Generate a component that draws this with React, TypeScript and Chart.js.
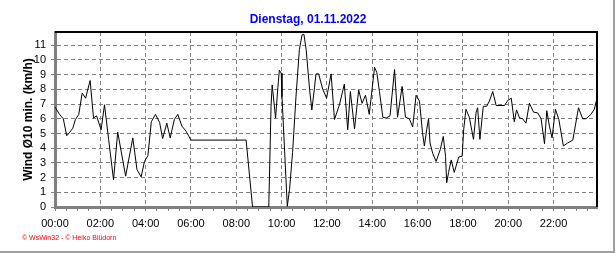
import React, { useEffect, useRef } from 'react';
import { Chart, registerables } from 'chart.js';

Chart.register(...registerables);

const TITLE = 'Dienstag, 01.11.2022';
const Y_TITLE = 'Wind Ø10 min. (km/h)';
const FOOTER = '© WsWin32 - © Heiko Blüdorn';

const hourLabels = ['00:00', '02:00', '04:00', '06:00', '08:00', '10:00', '12:00', '14:00', '16:00', '18:00', '20:00', '22:00'];
const yTickValues = [0, 1, 2, 3, 4, 5, 6, 7, 8, 9, 10, 11];
const xTickMinutes = Array.from({ length: 48 }, (_, i) => i * 30);

// time of day in minutes
const sampleMinutes = [
  0, 12, 22, 31, 38, 47, 54, 63, 72, 81, 93, 102, 110, 122, 131, 142, 155, 166, 187, 206,
  217, 228, 237, 246, 255, 266, 277, 285, 296, 305, 316, 325, 336, 347, 360, 506, 523, 566, 572, 575,
  584, 590, 594, 599, 601, 615, 621, 629, 638, 647, 654, 659, 665, 674, 680, 687, 691, 698, 709, 719,
  731, 740, 753, 766, 775, 782, 793, 804, 813, 822, 832, 846, 852, 859, 868, 877, 887, 899, 907, 919,
  928, 938, 947, 956, 965, 973, 978, 984, 989, 993, 1000, 1009, 1020, 1028, 1034, 1037, 1042, 1049, 1057, 1069,
  1078, 1082, 1088, 1097, 1108, 1115, 1119, 1125, 1134, 1143, 1150, 1159, 1168, 1190, 1199, 1208, 1216, 1222, 1230, 1238,
  1247, 1256, 1267, 1278, 1287, 1296, 1302, 1309, 1316, 1325, 1334, 1346, 1357, 1371, 1386, 1397, 1406, 1419, 1428, 1433,
];

// wind 10-min average, km/h
const windAvg = [
  6.8, 6.3, 6.0, 4.85, 5.05, 5.35, 5.95, 6.3, 7.75, 7.4, 8.6, 6.05, 6.2, 5.25, 6.95, 4.6, 1.85, 5.1, 2.1, 4.7,
  2.55, 2.05, 3.1, 3.5, 5.8, 6.3, 5.75, 4.65, 5.7, 4.7, 5.95, 6.3, 5.5, 5.15, 4.55, 4.55, 0, 0, 6.85, 8.3,
  6.05, 8.1, 9.3, 9.1, 7.5, 0.05, 1.2, 3.7, 7.5, 10.7, 11.7, 11.75, 10.7, 8.0, 6.6, 8.1, 9.05, 9.05, 8.0, 7.4,
  9.05, 5.95, 6.95, 8.35, 5.25, 7.85, 5.3, 7.95, 7.05, 7.6, 6.3, 9.5, 9.15, 7.85, 6.1, 6.05, 6.2, 9.35, 6.1, 8.2,
  6.1, 6.0, 5.45, 7.6, 7.2, 5.05, 4.15, 5.25, 6.0, 4.35, 3.65, 3.1, 3.9, 4.8, 3.45, 1.65, 2.35, 3.2, 2.35, 3.4,
  3.45, 5.25, 6.65, 6.1, 4.6, 6.45, 6.75, 4.6, 6.85, 6.85, 7.2, 7.85, 6.9, 6.9, 7.25, 7.4, 5.8, 6.6, 6.05, 6.0,
  5.7, 7.05, 6.45, 6.4, 6.0, 4.3, 6.55, 5.5, 4.7, 6.65, 5.95, 4.15, 4.35, 4.55, 6.75, 6.0, 6.0, 6.3, 6.65, 7.2,
];

const framePlugin = {
  id: 'frame',
  beforeDraw(chart: any) {
    const ctx = chart.ctx;
    ctx.save();
    ctx.fillStyle = '#ffffff';
    ctx.fillRect(0, 0, chart.width, chart.height);
    ctx.restore();
  },
  beforeDatasetsDraw(chart: any) {
    const { left, top, right, bottom } = chart.chartArea;
    const ctx = chart.ctx;
    ctx.save();
    ctx.strokeStyle = '#000000';
    ctx.lineWidth = 2;
    ctx.beginPath();
    ctx.moveTo(left, top);
    ctx.lineTo(right, top);
    ctx.lineTo(right, bottom);
    ctx.stroke();
    ctx.restore();
  },
  afterDraw(chart: any) {
    const ctx = chart.ctx;
    ctx.save();
    ctx.fillStyle = '#a0a0a0';
    ctx.fillRect(613, 0, 2, chart.height);
    ctx.fillRect(0, 251, 615, 2);
    ctx.fillStyle = '#ff0000';
    ctx.font = '7px "Liberation Sans"';
    ctx.textBaseline = 'middle';
    ctx.textAlign = 'left';
    ctx.fillText(FOOTER, 22, 238.5);
    ctx.restore();
  },
};

export default function App() {
  const canvasRef = useRef<HTMLCanvasElement | null>(null);

  useEffect(() => {
    document.body.style.margin = '0';
    const canvas = canvasRef.current;
    if (!canvas) return;
    Chart.defaults.font.family = '"Liberation Sans", Arial, sans-serif';
    const chart = new Chart(canvas, {
      type: 'line',
      data: {
        datasets: [
          {
            data: sampleMinutes.map((m, i) => ({ x: m, y: windAvg[i] })),
            borderColor: '#000000',
            borderWidth: 1,
            pointRadius: 0,
            tension: 0,
            fill: false,
            xAxisID: 'x',
            yAxisID: 'y',
          },
        ],
      },
      options: {
        responsive: false,
        animation: false,
        layout: { padding: 0 },
        plugins: {
          legend: { display: false },
          tooltip: { enabled: false },
          title: {
            display: true,
            text: TITLE,
            color: '#0000ff',
            font: { size: 12, weight: 'bold', lineHeight: 1 },
            padding: { top: 14, bottom: 6 },
          },
        },
        scales: {
          x: {
            type: 'linear',
            min: 0,
            max: 1435,
            afterBuildTicks: (s: any) => {
              s.ticks = xTickMinutes.map((v) => ({ value: v }));
            },
            afterFit: (s: any) => {
              s.height = 46;
            },
            ticks: {
              autoSkip: false,
              maxRotation: 0,
              minRotation: 0,
              padding: 6,
              color: '#000000',
              font: { size: 11 },
              callback: (v: any) => (v % 120 === 0 ? hourLabels[v / 120] : ''),
            },
            grid: {
              color: (c: any) => (c.tick && c.tick.value % 120 === 0 && c.tick.value > 0 ? '#808080' : 'rgba(0,0,0,0)'),
              tickColor: '#808080',
              tickLength: 4,
              lineWidth: 1,
            },
            border: { display: true, color: '#808080', width: 3, dash: [4, 3] },
          },
          y: {
            type: 'linear',
            min: 0,
            max: 11.9,
            afterBuildTicks: (s: any) => {
              s.ticks = yTickValues.map((v) => ({ value: v }));
            },
            afterFit: (s: any) => {
              s.width = 55;
            },
            ticks: {
              autoSkip: false,
              padding: 5,
              color: '#000000',
              font: { size: 11 },
              callback: (v: any) => String(v),
            },
            grid: {
              color: (c: any) => (c.tick && c.tick.value > 0 ? '#808080' : 'rgba(0,0,0,0)'),
              tickColor: '#808080',
              tickLength: 4,
              lineWidth: 1,
            },
            border: { display: true, color: '#808080', width: 3, dash: [4, 3] },
            title: {
              display: true,
              text: Y_TITLE,
              color: '#000000',
              font: { size: 12, weight: 'bold', lineHeight: 1.2 },
              padding: { top: 21, bottom: 0 },
            },
          },
          yRight: {
            type: 'linear',
            position: 'right',
            display: true,
            afterFit: (s: any) => {
              s.width = 19;
            },
            grid: { display: false, drawTicks: false },
            ticks: { display: false },
            border: { display: false },
          },
        },
      } as any,
      plugins: [framePlugin],
    });
    return () => chart.destroy();
  }, []);

  return <canvas ref={canvasRef} width={616} height={253} style={{ display: 'block', width: 616, height: 253 }} />;
}
